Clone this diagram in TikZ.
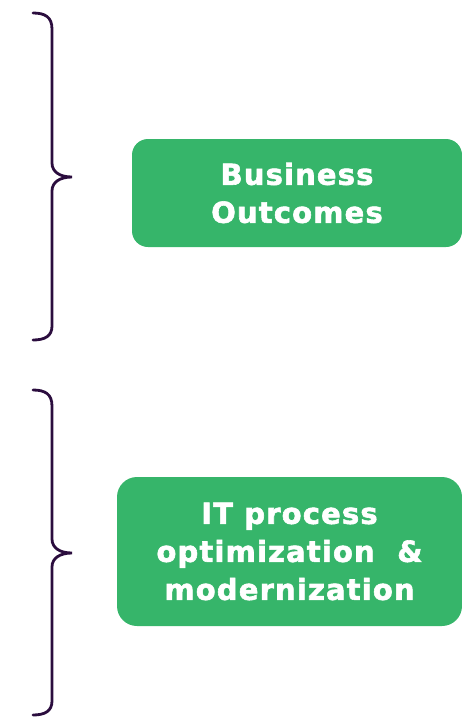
\documentclass[tikz,border=0pt]{standalone}
\usepackage{fontspec}
\setmainfont{DejaVu Sans}
\newfontfamily\cardfont[LetterSpace=4,FakeBold=2]{DejaVu Sans Bold}
\definecolor{tealgreen}{HTML}{36B56A}
\definecolor{bracepurple}{HTML}{2B0D3E}
\begin{document}
\begin{tikzpicture}[x=1pt,y=-1pt,
  card/.style={fill=tealgreen, rounded corners=16pt, inner sep=0pt, align=center,
    text=white, font=\cardfont\fontsize{29}{38}\selectfont},
  bracestroke/.style={draw=bracepurple, line width=2.8pt, line cap=round}]
  \useasboundingbox (0,0) rectangle (462,721);

  % upper brace
  \draw[bracestroke] (33,13) .. controls (45,13) and (52,17) .. (52,29) -- (52,163)
     .. controls (52,172) and (60,177) .. (72,177)
     .. controls (60,177) and (52,182) .. (52,191) -- (52,326)
     .. controls (52,336) and (45,340) .. (33,340);

  % lower brace
  \draw[bracestroke] (33,390) .. controls (45,390) and (52,394) .. (52,406) -- (52,539)
     .. controls (52,548) and (60,553) .. (72,553)
     .. controls (60,553) and (52,558) .. (52,567) -- (52,701)
     .. controls (52,711) and (45,715) .. (33,715);

  % cards
  \node[card, minimum width=330pt, minimum height=108pt] (outcomes) at (297,193)
    {Business\\Outcomes};
  \node[card, rounded corners=20pt, minimum width=345pt, minimum height=149pt] (itproc) at (289.5,551.5)
    {IT process\\optimization~~\&\\modernization};
\end{tikzpicture}
\end{document}
